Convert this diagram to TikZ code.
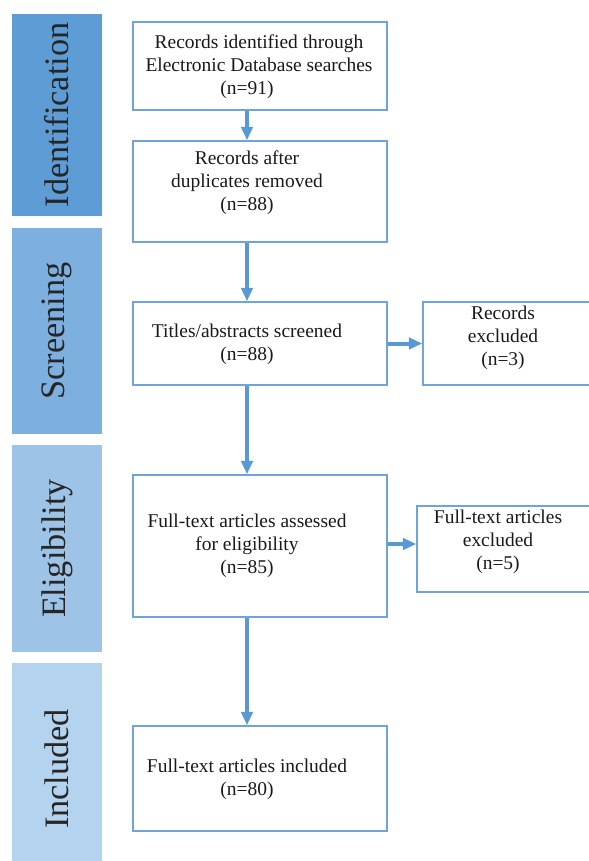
\documentclass[tikz,border=0pt]{standalone}
\usepackage{fontspec}
\setmainfont{Liberation Serif}
\usetikzlibrary{arrows.meta, positioning}
\definecolor{cIdent}{RGB}{93,156,213}
\definecolor{cScreen}{RGB}{126,176,223}
\definecolor{cElig}{RGB}{157,195,230}
\definecolor{cIncl}{RGB}{180,211,239}
\definecolor{cLine}{RGB}{88,152,212}
\definecolor{cBorder}{RGB}{112,163,217}
\tikzset{
	phase/.style    ={rectangle, fill=#1, rotate=90, minimum height=67.5pt, inner sep=0pt, font=\fontsize{25.7}{30}\selectfont, text=black!85},
	stagebox/.style ={rectangle, draw=cBorder, line width=1.1pt, inner sep=0pt},
	boxtext/.style  ={align=center, inner sep=0pt, font=\fontsize{14.6}{17.3}\selectfont, text=black!90},
	flowarrow/.style={-{Triangle[length=10pt, width=8.5pt]}, line width=3pt, cLine},
}
\begin{document}
\begin{tikzpicture}[x=0.75pt, y=-0.75pt]
	\useasboundingbox (0,0) rectangle (589,861);
	% phase bars
	\node[phase=cIdent,  minimum width=151.5pt]  (idBar) at (57,115)   {Identification};
	\node[phase=cScreen, minimum width=154.5pt]  (scBar) at (57,331)   {Screening};
	\node[phase=cElig,   minimum width=155.25pt] (elBar) at (57,548.5) {Eligibility};
	\node[phase=cIncl,   minimum width=159pt]    (inBar) at (57,769)   {Included};
	% main column
	\node[stagebox, minimum width=190.5pt, minimum height=66pt]     (recId)   at (260,66)    {};
	\node[stagebox, minimum width=190.5pt, minimum height=75.75pt]  (recDup)  at (260,191.5) {};
	\node[stagebox, minimum width=190.5pt, minimum height=62.25pt]  (scr)     at (260,343.5) {};
	\node[stagebox, minimum width=190.5pt, minimum height=106.5pt]  (fullAss) at (260,546)   {};
	\node[stagebox, minimum width=190.5pt, minimum height=78.75pt]  (fullInc) at (260,778.5) {};
	% excluded column
	\node[stagebox, minimum width=126.75pt, minimum height=62.25pt] (recExc)  at (507.5,343.5) {};
	\node[stagebox, minimum width=131.25pt, minimum height=64.5pt]  (fullExc) at (504.5,549)   {};
	% texts
	\node[boxtext] (recIdTxt)   at (259,67)  {Records identified through\\Electronic Database searches\\\hspace*{-18pt}(n=91)};
	\node[boxtext] (recDupTxt)  at (247,183) {Records after\\duplicates removed\\(n=88)};
	\node[boxtext] (scrTxt)     at (247,344) {Titles/abstracts screened\\(n=88)};
	\node[boxtext] (fullAssTxt) at (247,546) {Full-text articles assessed\\for eligibility\\(n=85)};
	\node[boxtext] (fullIncTxt) at (247,779) {Full-text articles included\\(n=80)};
	\node[boxtext] (recExcTxt)  at (503,338) {Records\\excluded\\(n=3)};
	\node[boxtext] (fullExcTxt) at (498,542) {Full-text articles\\excluded\\(n=5)};
	% arrows
	\coordinate (ax) at (247,0);
	\draw[flowarrow] (ax |- recId.south)   -- (ax |- recDup.north);
	\draw[flowarrow] (ax |- recDup.south)  -- (ax |- scr.north);
	\draw[flowarrow] (ax |- scr.south)     -- (ax |- fullAss.north);
	\draw[flowarrow] (ax |- fullAss.south) -- (ax |- fullInc.north);
	\draw[flowarrow] (scr.east) -- (scr.east -| recExc.west);
	\draw[flowarrow] ([yshift=1.5pt]fullAss.east) -- ([yshift=1.5pt]fullAss.east -| fullExc.west);
\end{tikzpicture}
\end{document}
